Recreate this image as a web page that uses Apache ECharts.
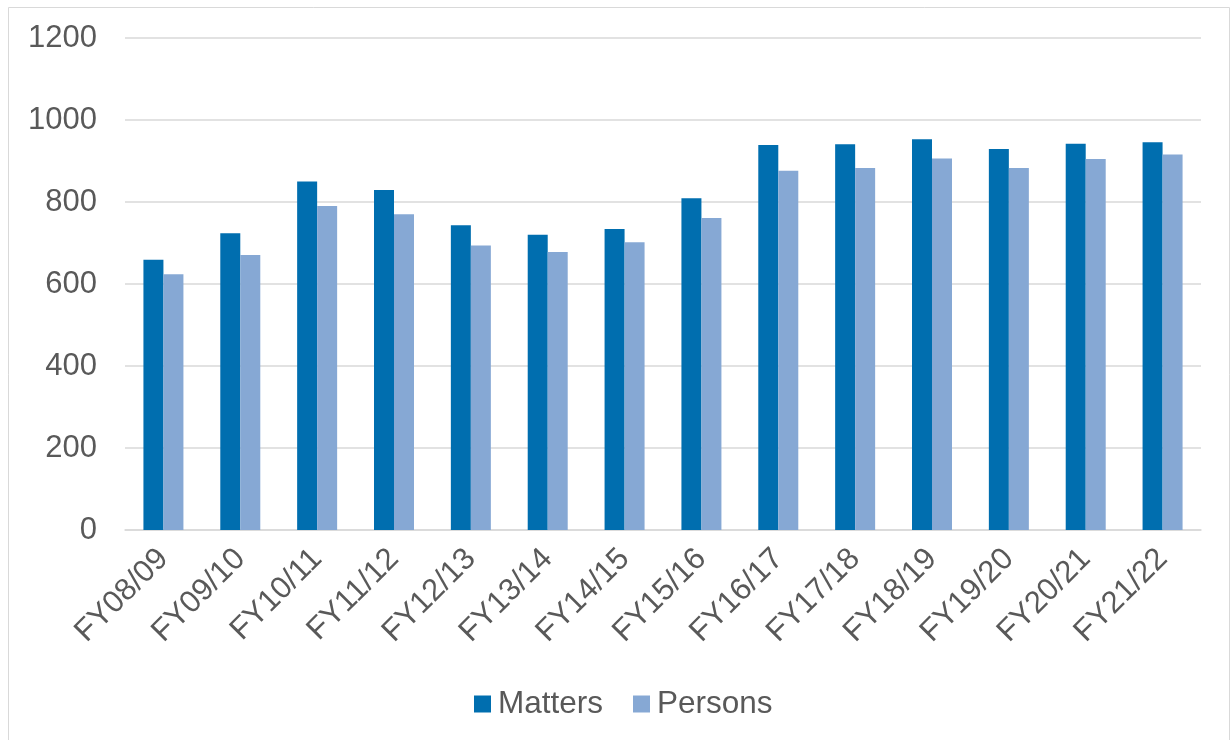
<!DOCTYPE html>
<html>
<head>
<meta charset="utf-8">
<script src="https://cdn.jsdelivr.net/npm/echarts@6/dist/echarts.min.js"></script>
<style>
  html, body { margin: 0; padding: 0; background: #ffffff; }
  #chart { width: 1231px; height: 740px; }
</style>
</head>
<body>
<div id="chart"></div>
<script>
// Fiscal years shown on the category axis
const years = ['FY08/09', 'FY09/10', 'FY10/11', 'FY11/12', 'FY12/13', 'FY13/14', 'FY14/15',
  'FY15/16', 'FY16/17', 'FY17/18', 'FY18/19', 'FY19/20', 'FY20/21', 'FY21/22'];

// Counts per fiscal year
const matters = [659, 724, 850, 829, 743, 720, 734, 809, 939, 941, 953, 929, 942, 946];
const persons = [624, 671, 790, 770, 694, 678, 702, 761, 876, 883, 906, 883, 905, 916];

const yTicks = { min: 0, max: 1200, interval: 200 };

const textColor = '#595959';
const font = 'Liberation Sans, Arial, sans-serif';

const chart = echarts.init(document.getElementById('chart'), null, { renderer: 'canvas' });

chart.setOption({
  backgroundColor: '#ffffff',
  animation: false,
  graphic: [{
    type: 'rect',
    shape: { x: 8.5, y: 7.5, width: 1221, height: 740 },
    style: { fill: 'none', stroke: '#d9d9d9', lineWidth: 1 },
    silent: true
  }],
  grid: { left: 125, right: 30, top: 38, bottom: 210 },
  legend: {
    bottom: 15,
    left: 469,
    itemWidth: 17,
    itemHeight: 17,
    itemGap: 30,
    icon: 'rect',
    textStyle: { color: textColor, fontSize: 31.5, fontFamily: font, padding: [0, 0, 0, 2] },
    data: ['Matters', 'Persons']
  },
  xAxis: {
    type: 'category',
    data: years,
    axisLine: { show: true, lineStyle: { color: '#d9d9d9', width: 1.5 } },
    axisTick: { show: false },
    axisLabel: {
      rotate: 45,
      interval: 0,
      margin: 24,
      color: textColor,
      fontSize: 31,
      fontFamily: font
    }
  },
  yAxis: {
    type: 'value',
    min: yTicks.min,
    max: yTicks.max,
    interval: yTicks.interval,
    axisLine: { show: false },
    axisTick: { show: false },
    splitLine: { lineStyle: { color: '#d9d9d9', width: 1.5 } },
    axisLabel: {
      margin: 28,
      color: textColor,
      fontSize: 31,
      fontFamily: font,
      formatter: (v) => String(v)
    }
  },
  series: [
    {
      name: 'Matters',
      type: 'bar',
      data: matters,
      barWidth: 20,
      barGap: '0%',
      itemStyle: { color: '#006eaf' }
    },
    {
      name: 'Persons',
      type: 'bar',
      data: persons,
      barWidth: 20,
      itemStyle: { color: '#86a8d4' }
    }
  ]
});
</script>
</body>
</html>
